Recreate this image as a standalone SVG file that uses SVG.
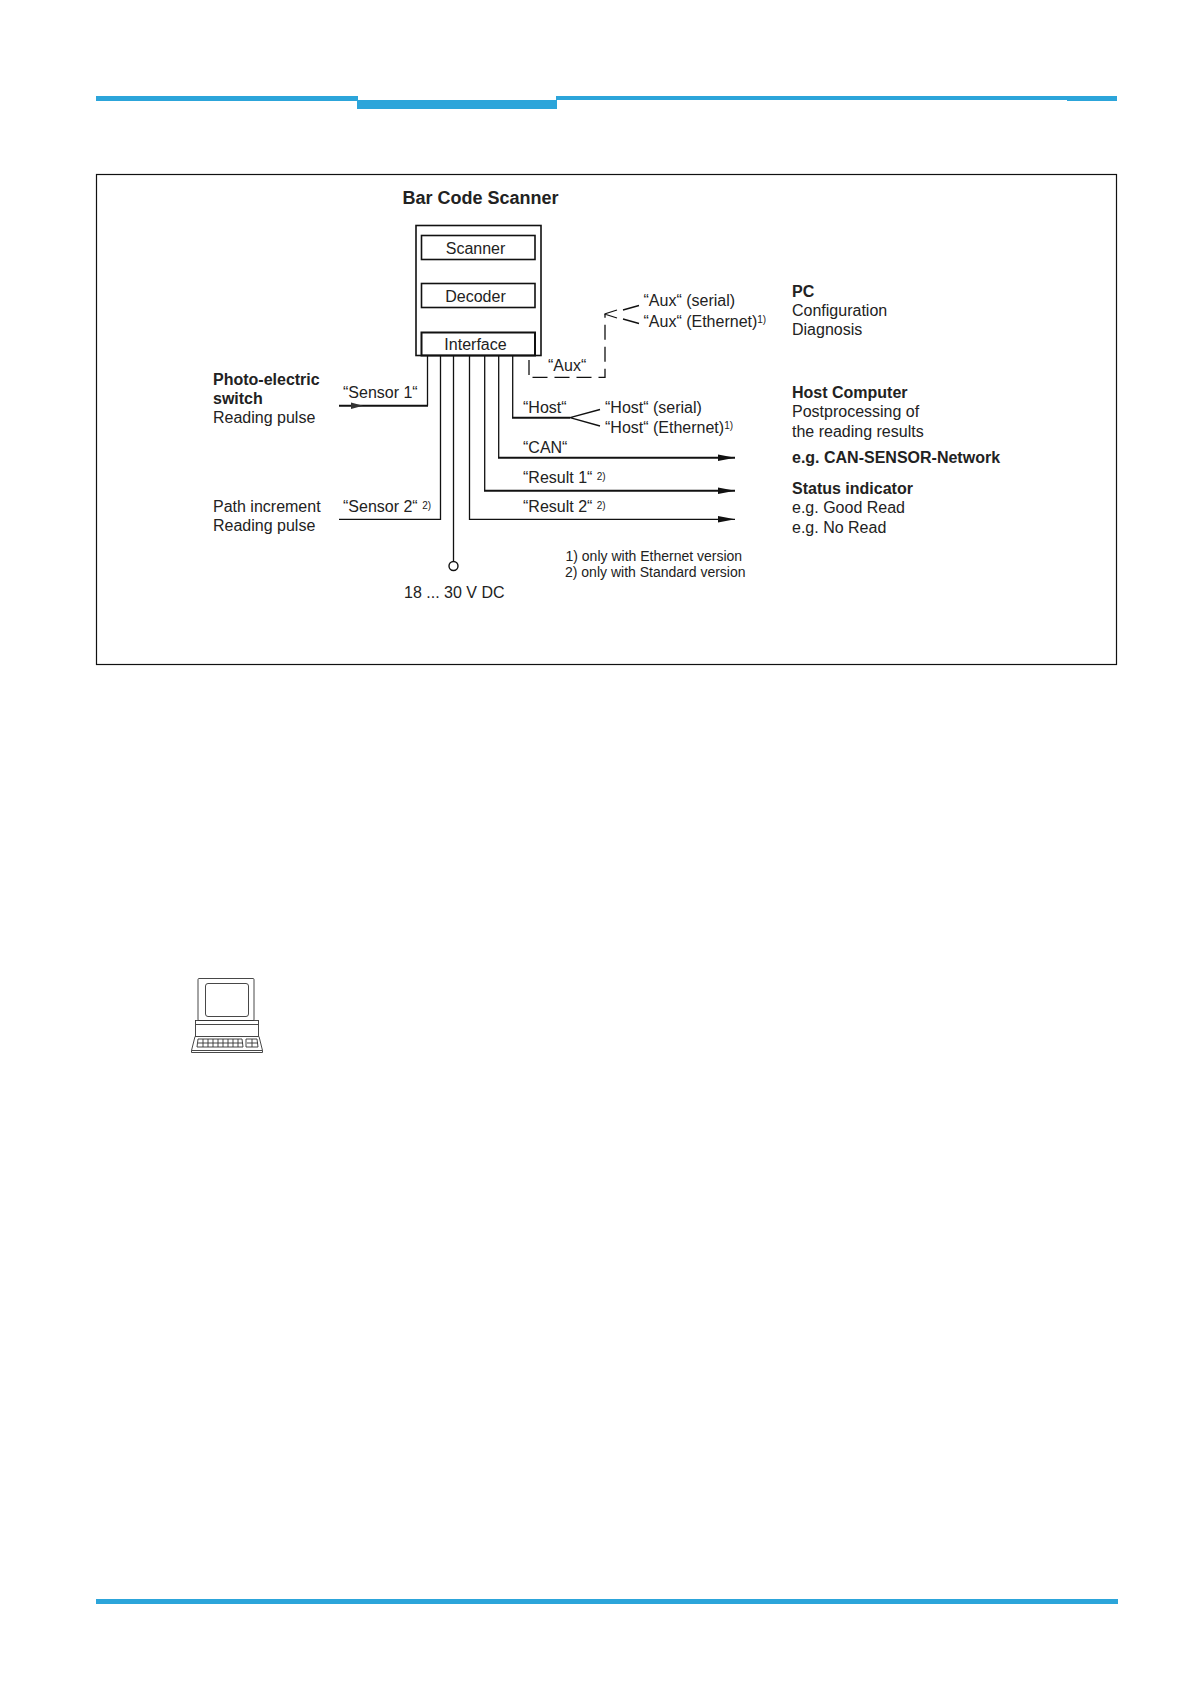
<svg xmlns="http://www.w3.org/2000/svg" width="1190" height="1684" viewBox="0 0 1190 1684">
<defs>
<style>
text{font-family:"Liberation Sans",Arial,sans-serif;font-size:16px;fill:#222}
.b{font-weight:bold}
.h{font-size:18px;font-weight:bold}
.s{font-size:10px}
.f{font-size:14px}
.l{fill:none;stroke:#111;stroke-width:1.3}
.t{fill:none;stroke:#111;stroke-width:2}
.d{fill:none;stroke:#111;stroke-width:1.3;stroke-dasharray:15 7}
.bar{fill:#2ca5da}
.i{fill:none;stroke:#333;stroke-width:0.9}
</style>
<marker id="ah" markerUnits="userSpaceOnUse" markerWidth="18" markerHeight="8" refX="17" refY="4" orient="auto"><path d="M0 0.800L17 4L0 7.200Z" fill="#111"/></marker>
</defs>
<rect width="1190" height="1684" fill="#fff"/>
<g id="header">
<rect class="bar" x="96" y="96" width="262" height="5"/>
<rect class="bar" x="357" y="100" width="200" height="9"/>
<rect class="bar" x="556" y="96" width="561" height="4"/>
<rect class="bar" x="1067" y="96" width="50" height="5"/>
</g>
<rect id="frame" x="96.500" y="174.500" width="1020" height="490" fill="none" stroke="#111" stroke-width="1.200"/>
<g id="scanner-title"><text class="h" x="402.500" y="203.500">Bar Code Scanner</text></g>
<g id="scanner-box"><rect x="416" y="225.500" width="125" height="130" fill="none" stroke="#111" stroke-width="1.600"/></g>
<g id="scanner"><rect x="421.500" y="235.500" width="113.500" height="24" fill="none" stroke="#111" stroke-width="1.600"/><text x="475.500" y="253.500" text-anchor="middle">Scanner</text></g>
<g id="decoder"><rect x="421.500" y="283.500" width="113.500" height="24" fill="none" stroke="#111" stroke-width="1.600"/><text x="475.500" y="301.500" text-anchor="middle">Decoder</text></g>
<g id="interface"><rect x="421.500" y="332.500" width="113.500" height="23" fill="none" stroke="#111" stroke-width="2"/><text x="475.500" y="349.500" text-anchor="middle">Interface</text></g>
<g id="connectors">
<path class="l" d="M427.500 356V405.700"/>
<path class="t" d="M339 405.700H428"/>
<path d="M351 402.500L363 405.700L351 408.900Z" fill="#333"/>
<path class="l" d="M339 519.300H440.500V356"/>
<path class="l" d="M453.500 356V561"/>
<path class="l" d="M469.500 356V519.300H735" marker-end="url(#ah)"/>
<path class="l" d="M484.700 356V490.700"/>
<path class="t" d="M484 490.700H735" marker-end="url(#ah)"/>
<path class="l" d="M498.700 356V457.700"/>
<path class="t" d="M498 457.700H735" marker-end="url(#ah)"/>
<path class="l" d="M512.700 356V417.700"/>
<path class="t" d="M512 417.700H570"/>
<path class="l" d="M570 417.700L600 409.500M570 417.700L600 426"/>
<path class="l" d="M529 360V375"/>
<path class="d" d="M532.500 377.300H605V314"/>
<path class="l" d="M604.500 314L617 310M604.500 314L617 318"/>
<path class="l" d="M623 310L639 305.500M623 319L639 323.500"/>
</g>
<g id="power"><circle cx="453.500" cy="566" r="4.500" fill="#fff" stroke="#111" stroke-width="1.400"/><text x="404" y="597.500">18 ... 30 V DC</text></g>
<g id="labels">
<text x="343" y="397.500">“Sensor 1“</text>
<text x="343" y="511.500">“Sensor 2“ <tspan class="s" dy="-3">2)</tspan></text>
<text x="548" y="370.500">“Aux“</text>
<text x="523" y="412.500">“Host“</text>
<text x="523" y="452.500">“CAN“</text>
<text x="523" y="482.500">“Result 1“ <tspan class="s" dy="-3">2)</tspan></text>
<text x="523" y="511.500">“Result 2“ <tspan class="s" dy="-3">2)</tspan></text>
<text x="643.500" y="306">“Aux“ (serial)</text>
<text x="643.500" y="327">“Aux“ (Ethernet)<tspan class="s" dy="-4">1)</tspan></text>
<text x="605" y="412.500">“Host“ (serial)</text>
<text x="605" y="433">“Host“ (Ethernet)<tspan class="s" dy="-4">1)</tspan></text>
<text class="f" x="565.500" y="560.500">1) only with Ethernet version</text>
<text class="f" x="565" y="577">2) only with Standard version</text>
</g>
<g id="photo-electric"><text class="b" x="213" y="384.500">Photo-electric</text><text class="b" x="213" y="403.500">switch</text><text x="213" y="423">Reading pulse</text></g>
<g id="path-increment"><text x="213" y="511.500">Path increment</text><text x="213" y="530.500">Reading pulse</text></g>
<g id="pc"><text class="b" x="792" y="296.500">PC</text><text x="792" y="315.500">Configuration</text><text x="792" y="334.500">Diagnosis</text></g>
<g id="host-computer"><text class="b" x="792" y="398">Host Computer</text><text x="792" y="417">Postprocessing of</text><text x="792" y="436.500">the reading results</text></g>
<g id="can-network"><text class="b" x="792" y="462.500">e.g. CAN-SENSOR-Network</text></g>
<g id="status"><text class="b" x="792" y="493.500">Status indicator</text><text x="792" y="513">e.g. Good Read</text><text x="792" y="532.500">e.g. No Read</text></g>
<g id="computer-icon">
<rect class="i" x="198" y="978.500" width="56" height="42" rx="1"/>
<rect class="i" x="205.500" y="983.500" width="43" height="33" rx="2.500"/>
<rect class="i" x="195.500" y="1020.500" width="63" height="16"/>
<path class="i" d="M196 1024.500H258"/>
<path class="i" d="M195 1036.500L191.500 1050.500H262.500L259 1036.500"/>
<path class="i" d="M191.500 1050.500V1052.500H262.500V1050.500"/>
<path class="i" d="M198 1039H242L243 1047H197ZM246 1039H257L258 1047H246ZM198 1043H243M247 1043H258M203 1039V1047M208 1039V1047M213 1039V1047M218 1039V1047M223 1039V1047M228 1039V1047M233 1039V1047M238 1039V1047M252 1039V1047"/>
</g>
<rect id="footer" class="bar" x="96" y="1599" width="1022" height="5"/>
</svg>
